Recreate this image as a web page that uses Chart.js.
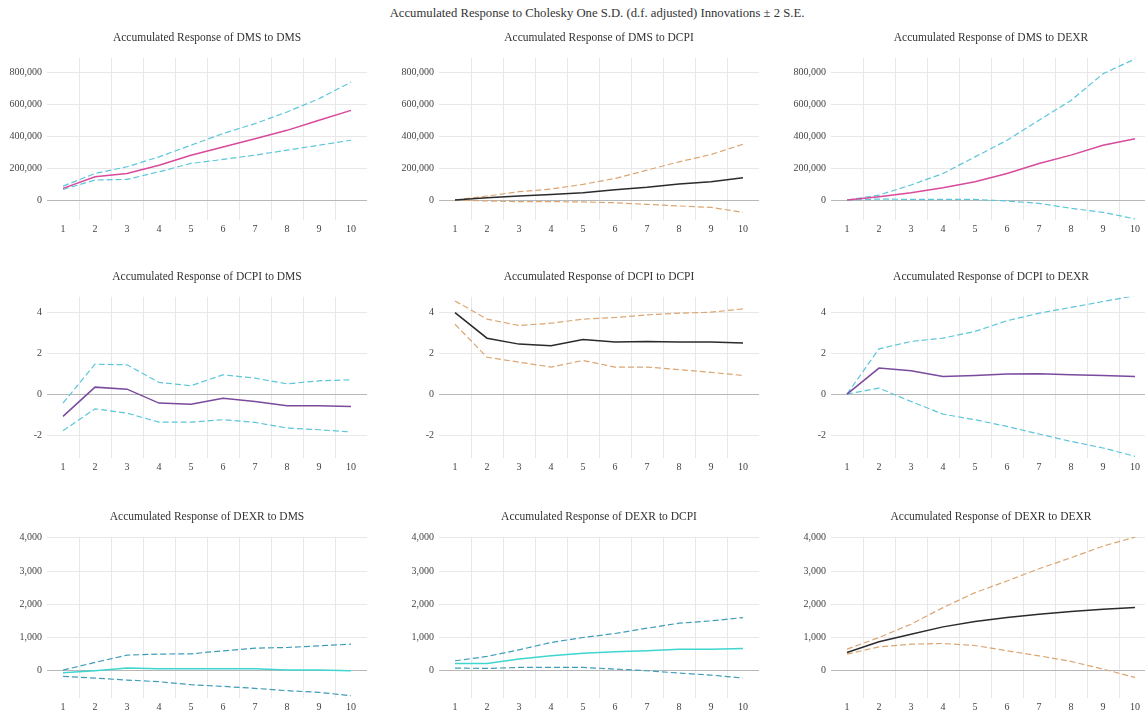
<!DOCTYPE html>
<html>
<head>
<meta charset="utf-8">
<title>Accumulated Response to Cholesky One S.D. Innovations</title>
<script src="https://cdn.jsdelivr.net/npm/chart.js@4.4.1/dist/chart.umd.min.js"></script>
<style>
  html, body { margin: 0; padding: 0; background: #fff; overflow: hidden; }
  #wrap { position: relative; width: 1145px; height: 711px; overflow: hidden; }
  .panel { position: absolute; }
  #mainTitle {
    position: absolute; top: 6px; left: 597px; transform: translateX(-50%);
    white-space: nowrap; font: 12.7px "Liberation Serif", serif; color: #333;
  }
</style>
</head>
<body>
<div id="wrap">
  <div id="mainTitle">Accumulated Response to Cholesky One S.D. (d.f. adjusted) Innovations ± 2 S.E.</div>
</div>
<script>
// ---- data ----
const periods = ['1', '2', '3', '4', '5', '6', '7', '8', '9', '10'];

const yTicksDms = [0, 200000, 400000, 600000, 800000];
const yTicksDcpi = [-2, 0, 2, 4];
const yTicksDexr = [0, 1000, 2000, 3000, 4000];

// response of DMS
const dmsToDms   = [73000, 145000, 166000, 218000, 280000, 332000, 384000, 436000, 499000, 561000];
const dmsToDmsUp = [87000, 166000, 208000, 270000, 343000, 416000, 478000, 551000, 634000, 738000];
const dmsToDmsLo = [66000, 125000, 129000, 177000, 229000, 254000, 281000, 312000, 343000, 374000];

const dmsToDcpi   = [0, 15000, 25000, 35000, 45000, 65000, 80000, 100000, 115000, 140000];
const dmsToDcpiUp = [0, 25000, 52000, 69000, 98000, 135000, 187000, 239000, 285000, 349000];
const dmsToDcpiLo = [0, -6000, -10000, -10000, -12000, -17000, -27000, -37000, -46000, -77000];

const dmsToDexr   = [0, 21000, 46000, 77000, 114000, 166000, 229000, 281000, 343000, 384000];
const dmsToDexrUp = [0, 31000, 94000, 166000, 270000, 374000, 499000, 623000, 790000, 883000];
const dmsToDexrLo = [0, 6000, 4000, 4000, 4000, -6000, -21000, -52000, -77000, -118000];

// response of DCPI
const dcpiToDms   = [-1.09, 0.34, 0.24, -0.44, -0.49, -0.20, -0.36, -0.57, -0.57, -0.60];
const dcpiToDmsUp = [-0.44, 1.46, 1.43, 0.57, 0.41, 0.94, 0.78, 0.50, 0.65, 0.70];
const dcpiToDmsLo = [-1.79, -0.72, -0.93, -1.37, -1.37, -1.25, -1.38, -1.66, -1.74, -1.85];

const dcpiToDcpi   = [3.98, 2.73, 2.44, 2.36, 2.67, 2.54, 2.57, 2.54, 2.54, 2.49];
const dcpiToDcpiUp = [4.55, 3.66, 3.35, 3.46, 3.66, 3.74, 3.87, 3.95, 4.00, 4.16];
const dcpiToDcpiLo = [3.41, 1.80, 1.56, 1.32, 1.64, 1.32, 1.32, 1.19, 1.06, 0.91];

const dcpiToDexr   = [0, 1.27, 1.14, 0.86, 0.91, 0.98, 0.99, 0.94, 0.91, 0.86];
const dcpiToDexrUp = [0, 2.21, 2.57, 2.73, 3.06, 3.58, 3.95, 4.23, 4.52, 4.80];
const dcpiToDexrLo = [0, 0.29, -0.36, -0.98, -1.25, -1.58, -1.95, -2.31, -2.63, -3.04];

// response of DEXR
const dexrToDms   = [-60, 0, 80, 60, 60, 60, 60, 20, 20, 0];
const dexrToDmsUp = [20, 250, 470, 500, 510, 600, 680, 700, 750, 800];
const dexrToDmsLo = [-170, -220, -280, -330, -420, -470, -530, -600, -650, -750];

const dexrToDcpi   = [220, 220, 350, 450, 530, 570, 600, 650, 650, 670];
const dexrToDcpiUp = [300, 430, 630, 850, 1000, 1120, 1280, 1430, 1500, 1600];
const dexrToDcpiLo = [80, 70, 100, 100, 100, 50, 0, -70, -130, -220];

const dexrToDexr   = [550, 870, 1100, 1320, 1480, 1600, 1700, 1780, 1850, 1900];
const dexrToDexrUp = [650, 1000, 1400, 1900, 2350, 2700, 3070, 3400, 3750, 4020];
const dexrToDexrLo = [500, 720, 800, 820, 760, 600, 450, 280, 50, -200];

// ---- styling ----
const SERIF = '"Liberation Serif", "Times New Roman", serif';
const MAGENTA = '#d84a9c';
const CYAN = '#5cc6da';
const BLACK = '#2b2b2b';
const TAN = '#dba673';
const PURPLE = '#7b4a9e';
const TURQUOISE = '#3fd6d0';
const TEAL = '#3f9db8';

const rows = [
  { ticks: yTicksDms, min: -125000, max: 890000, top: 28, height: 212 },
  { ticks: yTicksDcpi, min: -3.12, max: 4.75, top: 267, height: 211 },
  { ticks: yTicksDexr, min: -820, max: 4030, top: 507, height: 211 }
];
const colLeft = [0, 392, 784];

const panels = [
  { title: 'Accumulated Response of DMS to DMS', resp: dmsToDms, up: dmsToDmsUp, lo: dmsToDmsLo, line: MAGENTA, band: CYAN, row: 0, col: 0 },
  { title: 'Accumulated Response of DMS to DCPI', resp: dmsToDcpi, up: dmsToDcpiUp, lo: dmsToDcpiLo, line: BLACK, band: TAN, row: 0, col: 1 },
  { title: 'Accumulated Response of DMS to DEXR', resp: dmsToDexr, up: dmsToDexrUp, lo: dmsToDexrLo, line: MAGENTA, band: CYAN, row: 0, col: 2 },
  { title: 'Accumulated Response of DCPI to DMS', resp: dcpiToDms, up: dcpiToDmsUp, lo: dcpiToDmsLo, line: PURPLE, band: CYAN, row: 1, col: 0 },
  { title: 'Accumulated Response of DCPI to DCPI', resp: dcpiToDcpi, up: dcpiToDcpiUp, lo: dcpiToDcpiLo, line: BLACK, band: TAN, row: 1, col: 1 },
  { title: 'Accumulated Response of DCPI to DEXR', resp: dcpiToDexr, up: dcpiToDexrUp, lo: dcpiToDexrLo, line: PURPLE, band: CYAN, row: 1, col: 2 },
  { title: 'Accumulated Response of DEXR to DMS', resp: dexrToDms, up: dexrToDmsUp, lo: dexrToDmsLo, line: TURQUOISE, band: TEAL, row: 2, col: 0 },
  { title: 'Accumulated Response of DEXR to DCPI', resp: dexrToDcpi, up: dexrToDcpiUp, lo: dexrToDcpiLo, line: TURQUOISE, band: TEAL, row: 2, col: 1 },
  { title: 'Accumulated Response of DEXR to DEXR', resp: dexrToDexr, up: dexrToDexrUp, lo: dexrToDexrLo, line: BLACK, band: TAN, row: 2, col: 2 }
];

function bandDataset(values, color) {
  return {
    data: values,
    borderColor: color,
    borderWidth: 1.2,
    borderDash: [6, 3],
    pointRadius: 0,
    fill: false,
    tension: 0
  };
}

function buildPanel(p) {
  const row = rows[p.row];
  const canvas = document.createElement('canvas');
  canvas.className = 'panel';
  canvas.width = 371;
  canvas.height = row.height;
  canvas.style.left = colLeft[p.col] + 'px';
  canvas.style.top = row.top + 'px';
  document.getElementById('wrap').appendChild(canvas);

  new Chart(canvas.getContext('2d'), {
    type: 'line',
    data: {
      labels: periods,
      datasets: [
        { data: p.resp, borderColor: p.line, borderWidth: 1.5, pointRadius: 0, fill: false, tension: 0 },
        bandDataset(p.up, p.band),
        bandDataset(p.lo, p.band)
      ]
    },
    options: {
      responsive: false,
      animation: false,
      devicePixelRatio: 1,
      layout: { padding: { right: 4 } },
      plugins: {
        legend: { display: false },
        tooltip: { enabled: false },
        title: {
          display: true,
          text: p.title,
          fullSize: false,
          color: '#333',
          font: { family: SERIF, size: 11.5, weight: 'normal' },
          padding: { top: 3, bottom: 13 }
        }
      },
      scales: {
        x: {
          offset: true,
          grid: {
            offset: true,
            drawTicks: false,
            color: ctx => (ctx.index > 0 ? '#e8e8e8' : 'transparent')
          },
          border: { display: false },
          ticks: { padding: 3, color: '#444', font: { family: SERIF, size: 10 }, maxRotation: 0, autoSkip: false },
          afterFit: scale => { scale.height = 20; }
        },
        y: {
          min: row.min,
          max: row.max,
          afterBuildTicks: scale => { scale.ticks = row.ticks.map(v => ({ value: v })); },
          grid: {
            drawTicks: false,
            color: ctx => (ctx.tick && ctx.tick.value === 0 ? '#b8b8b8' : '#e8e8e8')
          },
          border: { display: false },
          ticks: {
            padding: 5,
            color: '#444',
            font: { family: SERIF, size: 10 },
            callback: value => Number(value).toLocaleString('en-US')
          },
          afterFit: scale => { scale.width = 47; }
        }
      }
    }
  });
}

panels.forEach(buildPanel);
</script>
</body>
</html>
